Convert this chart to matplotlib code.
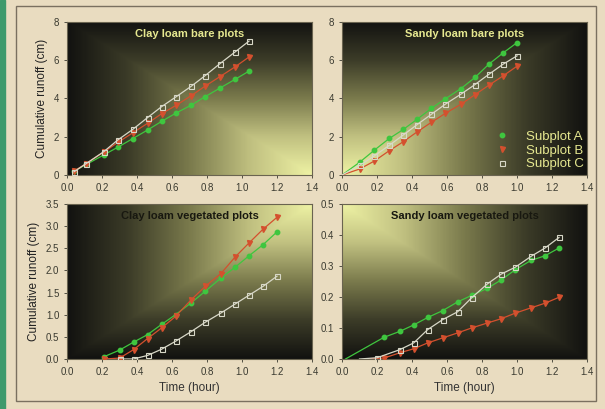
import numpy as np
import matplotlib
matplotlib.use('Agg')
import matplotlib.pyplot as plt
from matplotlib.colors import LinearSegmentedColormap
from matplotlib.patches import Rectangle

plt.rcParams['font.family'] = ['Liberation Sans', 'DejaVu Sans']

# Clay loam bare plots
clay_bare_t = [0.04, 0.11, 0.21, 0.29, 0.375, 0.46, 0.54, 0.625, 0.71, 0.79, 0.875, 0.96, 1.04]
clay_bare_a = [0.2, 0.55, 1.05, 1.45, 1.9, 2.35, 2.8, 3.25, 3.65, 4.1, 4.55, 5.0, 5.43]
clay_bare_b = [0.2, 0.6, 1.2, 1.7, 2.2, 2.7, 3.2, 3.65, 4.15, 4.65, 5.15, 5.65, 6.17]
clay_bare_c = [0.17, 0.6, 1.22, 1.83, 2.38, 3.0, 3.57, 4.1, 4.64, 5.2, 5.83, 6.43, 7.0]

# Sandy loam bare plots (first point = start of fitted line, no marker)
sandy_bare_t = [0.0, 0.1, 0.185, 0.27, 0.35, 0.43, 0.51, 0.59, 0.68, 0.76, 0.84, 0.92, 1.0]
sandy_bare_a = [0.0, 0.66, 1.3, 1.91, 2.38, 2.92, 3.48, 3.98, 4.52, 5.1, 5.8, 6.38, 6.92]
sandy_bare_b = [0.0, 0.31, 0.73, 1.27, 1.74, 2.26, 2.75, 3.22, 3.7, 4.2, 4.7, 5.18, 5.69]
sandy_bare_c = [0.0, 0.5, 1.0, 1.55, 2.09, 2.64, 3.17, 3.7, 4.23, 4.73, 5.27, 5.79, 6.23]

# Clay loam vegetated plots
clay_veg_t = [0.21, 0.3, 0.38, 0.46, 0.54, 0.62, 0.71, 0.79, 0.88, 0.96, 1.04, 1.12, 1.2]
clay_veg_a = [0.05, 0.2, 0.38, 0.55, 0.78, 1.0, 1.27, 1.53, 1.83, 2.07, 2.33, 2.58, 2.87]
clay_veg_b = [0.0, 0.02, 0.21, 0.46, 0.70, 0.96, 1.34, 1.64, 1.93, 2.30, 2.62, 2.93, 3.2]
clay_veg_c_t = [0.3, 0.38, 0.46, 0.54, 0.62, 0.71, 0.79, 0.88, 0.96, 1.04, 1.12, 1.2]
clay_veg_c = [0.0, 0.0, 0.08, 0.22, 0.40, 0.62, 0.83, 1.04, 1.24, 1.44, 1.64, 1.87]

# Sandy loam vegetated plots (first point = start of fitted line, no marker)
sandy_veg_a_t = [0.02, 0.24, 0.33, 0.41, 0.49, 0.575, 0.66, 0.74, 0.83, 0.91, 0.99, 1.08, 1.16, 1.24]
sandy_veg_a = [0.0, 0.07, 0.089, 0.11, 0.134, 0.156, 0.184, 0.205, 0.228, 0.255, 0.288, 0.318, 0.333, 0.358]
sandy_veg_b_t = [0.15, 0.24, 0.33, 0.41, 0.49, 0.575, 0.66, 0.74, 0.83, 0.91, 0.99, 1.08, 1.16, 1.24]
sandy_veg_b = [0.0, 0.003, 0.02, 0.033, 0.052, 0.068, 0.084, 0.1, 0.116, 0.13, 0.148, 0.165, 0.18, 0.199]
sandy_veg_c_t = [0.1, 0.2, 0.33, 0.41, 0.49, 0.575, 0.66, 0.74, 0.83, 0.91, 0.99, 1.08, 1.16, 1.24]
sandy_veg_c = [0.0, 0.004, 0.03, 0.052, 0.095, 0.127, 0.152, 0.197, 0.242, 0.274, 0.296, 0.331, 0.358, 0.392]

titles = ['Clay loam bare plots', 'Sandy loam bare plots',
          'Clay loam vegetated plots', 'Sandy loam vegetated plots']
ymaxes = [8, 8, 3.5, 0.5]
ysteps = [2, 2, 0.5, 0.1]
series_labels = ['Subplot A', 'Subplot B', 'Subplot C']

bg = '#e9dcc0'
green = '#3fc63f'
red = '#d4502e'
grey = '#d8d8c8'
pale = '#e6e890'

shade = LinearSegmentedColormap.from_list(
    'shade', ['#eef2a4', '#c0c080', '#7a7a4c', '#3c3c28', '#121210'])

fig = plt.figure(figsize=(6.05, 4.09), dpi=100, facecolor=bg)
# frame
fig.patches.append(Rectangle((0, 0), 5 / 605, 1, transform=fig.transFigure,
                             color='#3e9a6c', zorder=0))
fig.patches.append(Rectangle((16 / 605, 8 / 409), 580 / 605, 395 / 409, transform=fig.transFigure,
                             fill=False, ec='#7a7060', lw=1.0, zorder=1))

W, H = 605, 409
boxes = [(67, 22, 312, 175), (342, 22, 587, 175), (67, 204, 312, 359), (342, 204, 587, 359)]

# light corner for each panel: (x, y) in axes fraction
light_corner = [(1, 0), (0, 0), (1, 1), (0, 1)]

# per panel: (t, y, number of leading line-only points) for A, B, C
panels = [
    [(clay_bare_t, clay_bare_a, 0), (clay_bare_t, clay_bare_b, 0), (clay_bare_t, clay_bare_c, 0)],
    [(sandy_bare_t, sandy_bare_a, 1), (sandy_bare_t, sandy_bare_b, 1), (sandy_bare_t, sandy_bare_c, 1)],
    [(clay_veg_t, clay_veg_a, 0), (clay_veg_t, clay_veg_b, 0), (clay_veg_c_t, clay_veg_c, 0)],
    [(sandy_veg_a_t, sandy_veg_a, 1), (sandy_veg_b_t, sandy_veg_b, 1), (sandy_veg_c_t, sandy_veg_c, 1)],
]

styles = [
    dict(color=green, marker='o', ms=3.2, mec=green, mfc=green),
    dict(color=red, marker='v', ms=3.6, mec=red, mfc=red),
    dict(color=grey, marker='s', ms=3.6, mec=grey, mfc='none', mew=0.8),
]

u = np.linspace(0, 1, 300)
v = np.linspace(0, 1, 200)
U, V = np.meshgrid(u, v)

axes = []
for i, (x0, y0, x1, y1) in enumerate(boxes):
    ax = fig.add_axes([x0 / W, 1 - y1 / H, (x1 - x0) / W, (y1 - y0) / H])
    axes.append(ax)
    cx, cy = light_corner[i]
    tval = np.maximum(np.abs(U - cx), np.abs(V - cy))
    ymax = ymaxes[i]
    ax.imshow(tval, cmap=shade, origin='lower', extent=[0, 1.4, 0, ymax],
              aspect='auto', zorder=0, vmin=0, vmax=1)
    ax.set_xlim(0, 1.4)
    ax.set_ylim(0, ymax)
    ax.set_xticks(np.arange(0, 1.41, 0.2))
    ax.set_xticklabels(['%.1f' % t for t in np.arange(0, 1.41, 0.2)])
    yt = np.arange(0, ymax + 1e-9, ysteps[i])
    ax.set_yticks(yt)
    if ysteps[i] >= 1:
        ax.set_yticklabels(['%d' % t for t in yt])
    else:
        ax.set_yticklabels(['%.1f' % t for t in yt])
    ax.tick_params(labelsize=7, colors='#3a3a30', length=2, width=0.6)
    for s in ax.spines.values():
        s.set_color('#6a6450')
        s.set_linewidth(0.8)

    for k, (t, y, skip) in enumerate(panels[i]):
        ax.plot(t, y, '-', lw=0.9, markevery=slice(skip, None), label=series_labels[k],
                zorder=3 + k, **styles[k])

    tcol = pale if i < 2 else '#181810'
    ax.text(0.5, 0.92, titles[i], transform=ax.transAxes, ha='center', va='center',
            fontsize=8, fontweight='bold', color=tcol, zorder=6)

axes[0].set_ylabel('Cumulative runoff (cm)', fontsize=8.5, color='#222')
axes[2].set_ylabel('Cumulative runoff (cm)', fontsize=8.5, color='#222')
axes[2].set_xlabel('Time (hour)', fontsize=8.5, color='#333')
axes[3].set_xlabel('Time (hour)', fontsize=8.5, color='#333')

leg = axes[1].legend(loc='center', bbox_to_anchor=(0.80, 0.16), frameon=False,
                     fontsize=9.5, labelspacing=0.12, handlelength=1.6, handletextpad=1.0)
for txt in leg.get_texts():
    txt.set_color(pale)
for h in leg.get_lines():
    h.set_linestyle('none')

fig.savefig('out.png', dpi=100, facecolor=bg)
